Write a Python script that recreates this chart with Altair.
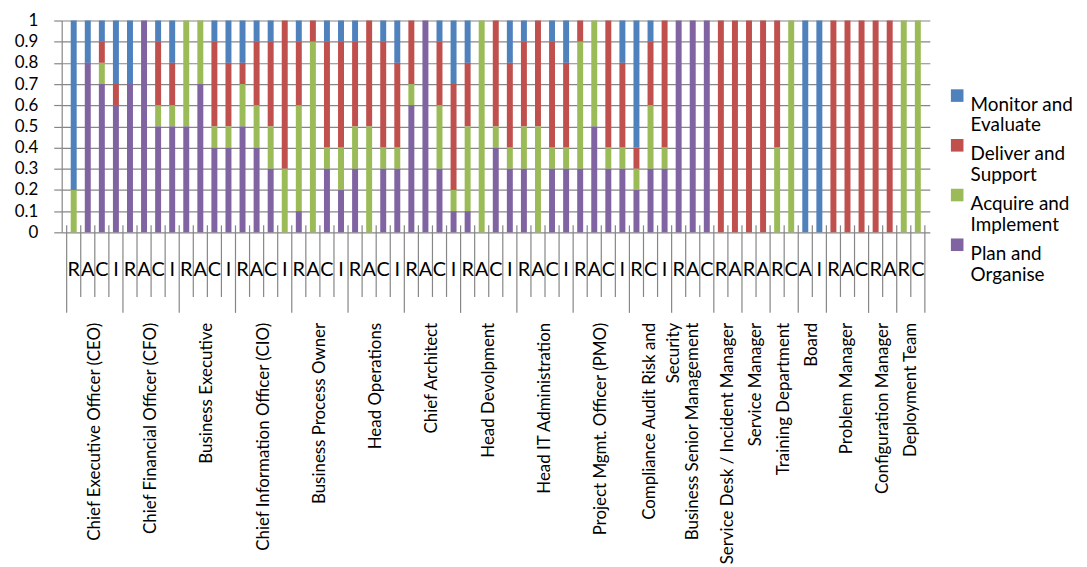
import altair as alt
import pandas as pd

# ---------------- data ----------------
groups = [
    "Chief Executive Officer (CEO)", "Chief Financial Officer (CFO)", "Business Executive",
    "Chief Information Officer (CIO)", "Business Process Owner", "Head Operations",
    "Chief Architect", "Head Devolpment", "Head IT Administration",
    "Project Mgmt. Officer (PMO)", "Compliance Audit Risk and\nSecurity",
    "Business Senior Management", "Service Desk / Incident Manager", "Service Manager",
    "Training Department", "Board", "Problem Manager", "Configuration Manager",
    "Deployment Team",
]
roles = ["RACI", "RACI", "RACI", "RACI", "RACI", "RACI", "RACI", "RACI", "RACI", "RACI",
         "RCI", "RAC", "RA", "RA", "RC", "AI", "RAC", "RA", "RC"]

plan = [0, 0.8, 0.7, 0.6, 0.7, 1, 0.5, 0.5, 0.5, 0.7, 0.4, 0.4, 0.5, 0.4, 0.3, 0,
        0.1, 0, 0.3, 0.2, 0.3, 0, 0.3, 0.3, 0.6, 1, 0.3, 0.1, 0.1, 0, 0.4, 0.3,
        0.3, 0, 0.3, 0.3, 0.3, 0.5, 0.3, 0.3, 0.2, 0.3, 0.3, 1, 1, 1,
        0, 0, 0, 0, 0, 0, 0, 0, 0, 0, 0, 0, 0, 0, 0]
acquire = [0.2, 0, 0.1, 0, 0, 0, 0.1, 0.1, 0.5, 0.3, 0.1, 0.1, 0.2, 0.2, 0.2, 0.3,
           0.5, 0.9, 0.1, 0.2, 0.2, 0.5, 0.1, 0.1, 0.1, 0, 0.3, 0.1, 0.4, 1, 0.1, 0.1,
           0.2, 0.5, 0.1, 0.1, 0.6, 0.5, 0.1, 0.1, 0.1, 0.3, 0.1, 0, 0, 0,
           0, 0, 0, 0, 0.4, 1, 0, 0, 0, 0, 0, 0, 0, 1, 1]
deliver = [0, 0, 0.1, 0.1, 0, 0, 0.3, 0.2, 0, 0, 0.4, 0.3, 0.1, 0.3, 0.4, 0.7,
           0.3, 0.1, 0.5, 0.5, 0.4, 0.5, 0.5, 0.4, 0.3, 0, 0.3, 0.5, 0.3, 0, 0.5, 0.4,
           0.4, 0.5, 0.5, 0.4, 0.1, 0, 0.6, 0.4, 0.1, 0.3, 0.6, 0, 0, 0,
           1, 1, 1, 1, 0.6, 0, 0, 0, 1, 1, 1, 1, 1, 0, 0]
monitor = [0.8, 0.2, 0.1, 0.3, 0.3, 0, 0.1, 0.2, 0, 0, 0.1, 0.2, 0.2, 0.1, 0.1, 0,
           0.1, 0, 0.1, 0.1, 0.1, 0, 0.1, 0.2, 0, 0, 0.1, 0.3, 0.2, 0, 0, 0.2,
           0.1, 0, 0.1, 0.2, 0, 0, 0, 0.2, 0.6, 0.1, 0, 0, 0, 0,
           0, 0, 0, 0, 0, 0, 1, 1, 0, 0, 0, 0, 0, 0, 0]

series = ["Monitor and Evaluate", "Deliver and Support", "Acquire and Implement", "Plan and Organise"]
colors = ["#4F81BD", "#C0504D", "#9BBB59", "#8064A2"]
y_ticks = [0, 0.1, 0.2, 0.3, 0.4, 0.5, 0.6, 0.7, 0.8, 0.9, 1]

# ---------------- tables ----------------
letters = [ch for r in roles for ch in r]
n = len(letters)
values = {"Plan and Organise": plan, "Acquire and Implement": acquire,
          "Deliver and Support": deliver, "Monitor and Evaluate": monitor}
stack_rank = {"Plan and Organise": 0, "Acquire and Implement": 1,
              "Deliver and Support": 2, "Monitor and Evaluate": 3}

bar_rows = []
for i in range(n):
    for s in series:
        bar_rows.append({"pos": i + 0.5, "series": s, "value": values[s][i], "k": stack_rank[s]})
bar_df = pd.DataFrame(bar_rows)

letter_df = pd.DataFrame({"pos": [i + 0.5 for i in range(n)], "letter": letters})

group_rows = []
group_edges = [0]
start = 0
for g, r in zip(groups, roles):
    group_rows.append({"center": start + len(r) / 2, "group": g})
    start += len(r)
    group_edges.append(start)
group_df = pd.DataFrame(group_rows)

short_df = pd.DataFrame({"b": [b for b in range(n + 1) if b not in group_edges]})
long_df = pd.DataFrame({"b": group_edges})

# ---------------- chart ----------------
FONT = "Lato"
GRID = "#868686"
xscale = alt.Scale(domain=[0, n], nice=False, zero=False)

bars = alt.Chart(bar_df).mark_bar(size=6).encode(
    x=alt.X("pos:Q", scale=xscale, axis=None),
    y=alt.Y("value:Q", stack="zero",
            scale=alt.Scale(domain=[0, 1], nice=False),
            axis=alt.Axis(values=y_ticks, format="~g", title=None, grid=True,
                          gridColor=GRID, gridWidth=1.2, domainColor=GRID, domainWidth=1.2,
                          tickColor=GRID, tickWidth=1.2, tickSize=8, labelPadding=16,
                          labelFont=FONT, labelFontSize=17, labelColor="black")),
    color=alt.Color("series:N", scale=alt.Scale(domain=series, range=colors),
                    legend=alt.Legend(title=None, orient="none", legendX=891, legendY=66,
                                      symbolType="square", symbolSize=160, symbolStrokeWidth=0,
                                      labelFont=FONT, labelFontSize=19, labelColor="black",
                                      labelBaseline="top", rowPadding=-3.5, padding=0,
                                      labelExpr="[slice(datum.label, 0, indexof(datum.label, 'and') + 3), slice(datum.label, indexof(datum.label, 'and') + 4)]")),
    order=alt.Order("k:Q", sort="ascending"),
)

short_ticks = alt.Chart(short_df).mark_rule(color=GRID, strokeWidth=1.2).encode(
    x=alt.X("b:Q", scale=xscale, axis=None),
    y=alt.value(206), y2=alt.value(278),
)
long_ticks = alt.Chart(long_df).mark_rule(color=GRID, strokeWidth=1.2).encode(
    x=alt.X("b:Q", scale=xscale, axis=None),
    y=alt.value(206), y2=alt.value(294),
)

letter_text = alt.Chart(letter_df).mark_text(
    font=FONT, fontSize=20, align="center", baseline="middle", color="black"
).encode(
    x=alt.X("pos:Q", scale=xscale, axis=None),
    y=alt.value(251),
    text="letter:N",
)

group_text = alt.Chart(group_df).mark_text(
    font=FONT, fontSize=17, angle=270, align="right", baseline="middle",
    lineBreak="\n", lineHeight=24, color="black"
).encode(
    x=alt.X("center:Q", scale=xscale, axis=None),
    y=alt.value(304),
    text="group:N",
)

chart = alt.layer(bars, short_ticks, long_ticks, letter_text, group_text).properties(
    width=873, height=213,
    autosize=alt.AutoSizeParams(type="none"),
    padding={"left": 54, "top": 11, "right": 150, "bottom": 340},
).configure_view(stroke=None)

chart.save("out.html", embed_options={"renderer": "svg", "actions": False})
